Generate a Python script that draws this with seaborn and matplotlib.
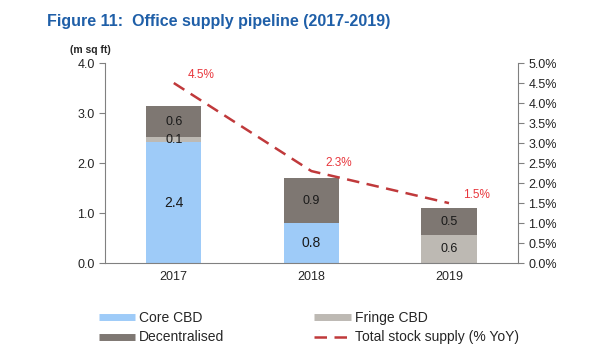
import numpy as np
import matplotlib
matplotlib.use('Agg')
import matplotlib.pyplot as plt
from matplotlib.lines import Line2D
from matplotlib.ticker import FormatStrFormatter, FuncFormatter
import seaborn as sns

years = ['2017', '2018', '2019']
core_cbd = [2.42, 0.80, 0.0]
fringe_cbd = [0.10, 0.0, 0.56]
decentralised = [0.62, 0.90, 0.54]
stock_yoy = [4.5, 2.3, 1.5]

c_core = '#9ecbf8'
c_fringe = '#bdb9b3'
c_dec = '#7e7772'
c_line = '#c0393b'
c_lab = '#e8363c'

sns.set_style('white')
plt.rcParams['font.family'] = ['Liberation Sans', 'DejaVu Sans']

fig = plt.figure(figsize=(6, 3.6), dpi=100)
ax = fig.add_axes([0.175, 0.269, 0.688, 0.556])

core = np.array(core_cbd)
low = core + np.array(fringe_cbd)
total = low + np.array(decentralised)

# overlapping cumulative bars, tallest first
for h, c in [(total, c_dec), (low, c_fringe), (core, c_core)]:
    sns.barplot(x=years, y=h, color=c, width=0.4, ax=ax, saturation=1,
                linewidth=0, edgecolor='none')

for i in range(len(years)):
    segs = [(0, core[i], core_cbd[i], 10), (core[i], low[i], fringe_cbd[i], 9),
            (low[i], total[i], decentralised[i], 9)]
    for lo, hi, v, fs in segs:
        if v > 0:
            ax.text(i, (lo + hi) / 2, f'{v:.1f}', ha='center', va='center',
                    fontsize=fs, color='#1a1a1a')

ax.set_ylim(0, 4.0)
ax.set_xlim(-0.5, 2.5)
ax.set_yticks(np.arange(0, 4.01, 1.0))
ax.yaxis.set_major_formatter(FormatStrFormatter('%.1f'))
ax.set_xlabel('')
ax.set_ylabel('')
ax.set_xticks([-0.5, 0.5, 1.5, 2.5], minor=True)
ax.tick_params(axis='x', which='major', length=0, labelsize=9, pad=6)
ax.tick_params(axis='x', which='minor', length=4, color='#808080', direction='out')
ax.tick_params(axis='y', length=4, color='#808080', direction='out', labelsize=9,
               labelcolor='#222222')
for s in ['left', 'bottom']:
    ax.spines[s].set_color('#808080')
ax.spines['top'].set_visible(False)
ax.spines['right'].set_visible(False)

ax2 = ax.twinx()
x_pos = np.arange(len(years))
sns.lineplot(x=x_pos, y=stock_yoy, ax=ax2, color=c_line, linewidth=1.8,
             linestyle=(0, (5, 3)))
for i, v in enumerate(stock_yoy):
    ax2.annotate(f'{v:.1f}%', (x_pos[i], v), xytext=(20, 6),
                 textcoords='offset points', ha='center', va='center',
                 fontsize=8.5, color=c_lab)
ax2.set_ylim(0, 5.0)
ax2.set_yticks(np.arange(0, 5.01, 0.5))
ax2.yaxis.set_major_formatter(FuncFormatter(lambda v, p: f'{v:.1f}%'))
ax2.tick_params(axis='y', length=4, color='#808080', direction='out', labelsize=9,
                labelcolor='#222222')
ax2.spines['right'].set_color('#808080')
ax2.spines['right'].set_visible(True)
for s in ['left', 'top', 'bottom']:
    ax2.spines[s].set_visible(False)
ax2.set_xlim(-0.5, 2.5)

fig.text(0.078, 0.94, 'Figure 11:  Office supply pipeline (2017-2019)',
         fontsize=11.5, fontweight='bold', color='#1f5fa8', va='center')
fig.text(0.117, 0.862, '(m sq ft)', fontsize=7.5, fontweight='bold', va='center')

handles = [Line2D([], [], color=c_core, lw=5, solid_capstyle='butt'),
           Line2D([], [], color=c_dec, lw=5, solid_capstyle='butt'),
           Line2D([], [], color=c_fringe, lw=5, solid_capstyle='butt'),
           Line2D([], [], color=c_line, lw=1.8, linestyle=(0, (5, 3)))]
labels = ['Core CBD', 'Decentralised', 'Fringe CBD', 'Total stock supply (% YoY)']
fig.legend(handles, labels, ncol=2, frameon=False, fontsize=10,
           loc='upper left', bbox_to_anchor=(0.155, 0.152), handlelength=2.65,
           handletextpad=0.25, columnspacing=6.5, labelspacing=0.4,
           borderaxespad=0)

fig.savefig('out.png', dpi=100)
